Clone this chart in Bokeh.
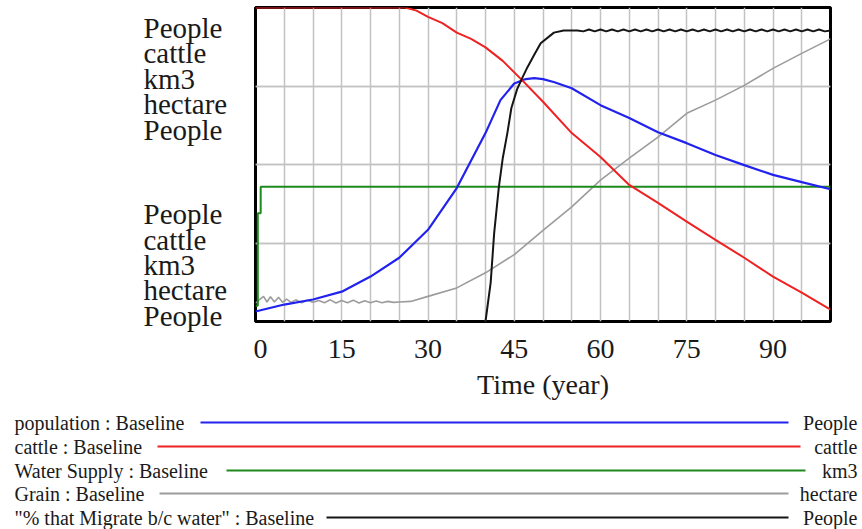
from bokeh.plotting import figure
from bokeh.layouts import column, row
from bokeh.models import Range1d, FixedTicker, Grid
from bokeh.core.properties import value
from bokeh.embed import file_html
from bokeh.resources import INLINE

SERIF = "Liberation Serif"

# ---------------- data (normalised 0..1 on each series' own scale) ----------------
x_ticks = [0, 15, 30, 45, 60, 75, 90]
grid_years = list(range(0, 101, 5))
unit_labels = ["People", "cattle", "km3", "hectare", "People"]

pop_years = [0, 5, 10, 15, 20, 25, 30, 35, 40, 42.6, 45, 47, 48.5, 50, 52, 55, 60, 65, 70, 75, 80, 85, 90, 95, 100]
population = [0.032, 0.054, 0.07, 0.095, 0.143, 0.203, 0.292, 0.425, 0.60, 0.705, 0.758, 0.772, 0.775, 0.772,
              0.762, 0.743, 0.689, 0.648, 0.603, 0.568, 0.53, 0.498, 0.467, 0.444, 0.421]

cattle_years = [0, 26, 28, 30, 32.5, 35, 37.5, 40, 43, 46.4, 50, 55, 60, 65, 70, 75, 80, 85, 90, 95, 100]
cattle = [1.0, 1.0, 0.99, 0.97, 0.95, 0.92, 0.9, 0.873, 0.83, 0.768, 0.70, 0.60, 0.524, 0.435, 0.378, 0.318,
          0.26, 0.203, 0.143, 0.092, 0.038]

water_years = [0, 0.4, 0.4, 0.9, 0.9, 100]
water = [0.05, 0.05, 0.345, 0.345, 0.429, 0.429]

grain_years = [0, 0.7, 1.4, 2.0, 2.6, 3.3, 4.0, 4.7, 5.4, 6.2, 7, 8, 9, 10, 11, 12, 13, 14, 15, 16, 17, 18, 19,
               20, 21, 22, 23, 24, 25, 27, 30, 35, 40, 45, 50, 55, 60, 65, 70, 75, 80, 85, 90, 95, 100]
grain = [0.058, 0.07, 0.08, 0.062, 0.079, 0.062, 0.077, 0.061, 0.071, 0.061, 0.069, 0.06, 0.068, 0.061, 0.067,
         0.06, 0.069, 0.059, 0.067, 0.06, 0.068, 0.059, 0.066, 0.06, 0.065, 0.06, 0.064, 0.061, 0.062, 0.064,
         0.08, 0.107, 0.155, 0.213, 0.29, 0.365, 0.45, 0.52, 0.587, 0.663, 0.705, 0.752, 0.806, 0.854, 0.9]

migrate_years = [40, 40.9, 41.5, 42.3, 43, 43.8, 44.5, 45.5, 46.5, 47.3, 48.5, 49.6, 51.9, 53.6, 55, 56, 57, 58,
                 59, 60, 61, 62, 63, 64, 65, 66, 67, 68, 69, 70, 71, 72, 73, 74, 75, 76, 77, 78, 79, 80, 81, 82,
                 83, 84, 85, 86, 87, 88, 89, 90, 91, 92, 93, 94, 95, 96, 97, 98, 99, 100]
migrate = [0.0, 0.124, 0.28, 0.425, 0.52, 0.6, 0.68, 0.74, 0.78, 0.81, 0.85, 0.886, 0.92, 0.927, 0.927, 0.927,
           0.924, 0.93, 0.924, 0.93, 0.924, 0.93, 0.924, 0.93, 0.924, 0.93, 0.924, 0.93, 0.924, 0.93, 0.924,
           0.93, 0.924, 0.93, 0.924, 0.93, 0.924, 0.93, 0.924, 0.93, 0.924, 0.93, 0.924, 0.93, 0.924, 0.93,
           0.924, 0.93, 0.924, 0.93, 0.924, 0.93, 0.924, 0.93, 0.924, 0.93, 0.924, 0.93, 0.924, 0.927]

legend_names = ["population : Baseline", "cattle : Baseline", "Water Supply : Baseline", "Grain : Baseline",
                "\"% that Migrate b/c water\" : Baseline"]
legend_units = ["People", "cattle", "km3", "hectare", "People"]

# ---------------- styles ----------------
C_BLUE, C_RED, C_GREEN, C_GREY, C_BLACK = "#2222ee", "#ee2222", "#1e8a1e", "#9c9c9c", "#151515"
legend_colors = [C_BLUE, C_RED, C_GREEN, C_GREY, C_BLACK]
TXT = "#1a1a1a"
GRID = "#c2c2c2"


def no_grid(fig):
    fig.xgrid.grid_line_color = None
    fig.ygrid.grid_line_color = None
    fig.outline_line_color = None


# ---------------- main plot ----------------
main = figure(width=609, height=408, x_range=Range1d(0, 100), y_range=Range1d(0, 1),
              output_backend="svg", toolbar_location=None, y_axis_location=None, frame_align=False,
              min_border_left=2, min_border_right=32, min_border_top=7, min_border_bottom=87)
main.outline_line_color = "black"
main.outline_line_width = 3
main.background_fill_color = "white"
main.border_fill_color = "white"

ax = main.xaxis[0]
ax.ticker = FixedTicker(ticks=x_ticks)
ax.axis_label = "Time (year)"
ax.axis_label_text_font = SERIF
ax.axis_label_text_font_size = "28px"
ax.axis_label_text_font_style = "normal"
ax.axis_label_text_color = TXT
ax.axis_label_standoff = 8
ax.major_label_text_font = SERIF
ax.major_label_text_font_size = "28px"
ax.major_label_text_color = TXT
ax.major_label_standoff = 12
ax.axis_line_color = None
ax.major_tick_line_color = None
ax.minor_tick_line_color = None

main.xgrid.ticker = FixedTicker(ticks=grid_years)
main.xgrid.grid_line_color = GRID
main.xgrid.grid_line_width = 1.5
main.add_layout(Grid(dimension=1, ticker=FixedTicker(ticks=[0.25, 0.5, 0.75])))
main.ygrid.ticker = FixedTicker(ticks=[0.25, 0.5, 0.75])
main.ygrid.grid_line_color = GRID
main.ygrid.grid_line_width = 1.5

main.line(grain_years, grain, line_color=C_GREY, line_width=1.6)
main.line(water_years, water, line_color=C_GREEN, line_width=2)
main.line(pop_years, population, line_color=C_BLUE, line_width=2.2)
main.line(cattle_years, cattle, line_color=C_RED, line_width=2)
main.line(migrate_years, migrate, line_color=C_BLACK, line_width=2)

# ---------------- left unit labels ----------------
lbl = figure(width=253, height=408, x_range=Range1d(0, 253), y_range=Range1d(408, 0),
             output_backend="svg", toolbar_location=None, x_axis_location=None, y_axis_location=None,
             frame_align=False, min_border=0)
no_grid(lbl)
label_centers = [27, 52, 78, 103, 129, 213, 239, 264, 289, 315]
lbl.text(x=[143] * 10, y=label_centers, text=unit_labels + unit_labels,
         text_font=value(SERIF), text_font_size="29px", text_baseline="middle",
         text_align="left", text_color=TXT)

# ---------------- legend ----------------
leg = figure(width=862, height=121, x_range=Range1d(0, 862), y_range=Range1d(529, 408),
             output_backend="svg", toolbar_location=None, x_axis_location=None, y_axis_location=None,
             frame_align=False, min_border=0)
no_grid(leg)
rows_y = [422, 446, 470, 493, 517]
line_x0 = [200, 157, 226, 159, 326]
line_x1 = [788, 800, 805, 788, 788]
leg.segment(x0=line_x0, y0=rows_y, x1=line_x1, y1=rows_y, line_color=legend_colors, line_width=2)
leg.text(x=[14] * 5, y=rows_y, text=legend_names, text_font=value(SERIF), text_font_size="20px",
         text_baseline="middle", text_align="left", text_color=TXT)
leg.text(x=[857] * 5, y=rows_y, text=legend_units, text_font=value(SERIF), text_font_size="20px",
         text_baseline="middle", text_align="right", text_color=TXT)

layout = column(row(lbl, main), leg)
open("out.html", "w").write(file_html(layout, INLINE))
